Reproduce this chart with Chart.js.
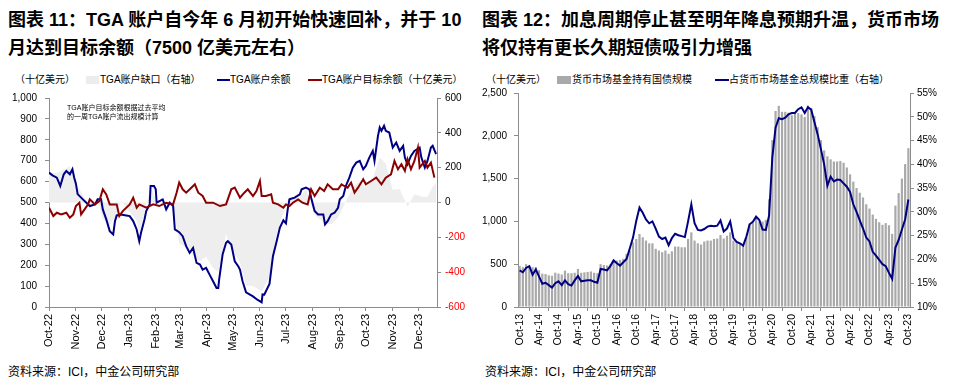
<!DOCTYPE html>
<html><head><meta charset="utf-8">
<script src="https://cdn.jsdelivr.net/npm/chart.js@4.4.0/dist/chart.umd.min.js"></script>
<style>
body{margin:0;width:961px;height:389px;background:#fff;position:relative;overflow:hidden;font-family:"Liberation Sans",Arial,"Noto Sans CJK SC",sans-serif;color:#000;}
.title{position:absolute;font-weight:bold;font-size:18px;line-height:28px;white-space:nowrap;}
.leg{position:absolute;font-size:10px;line-height:12px;top:74px;white-space:nowrap;}
.box{position:absolute;}
.src{position:absolute;font-size:12px;line-height:14px;top:365px;white-space:nowrap;}
canvas{position:absolute;}
</style></head><body>
<div class="title" style="left:8px;top:6px">图表 11：TGA 账户自今年 6 月初开始快速回补，并于 10<br>月达到目标余额（7500 亿美元左右）</div>
<div class="title" style="left:482px;top:6px">图表 12：加息周期停止甚至明年降息预期升温，货币市场<br>将仅持有更长久期短债吸引力增强</div>

<div class="leg" style="left:15px">（十亿美元）</div>
<div class="box" style="left:86px;top:76px;width:13px;height:8px;background:#ececec"></div>
<div class="leg" style="left:100px">TGA账户缺口（右轴）</div>
<div class="box" style="left:217px;top:79px;width:13px;height:2px;background:#000085"></div>
<div class="leg" style="left:230px">TGA账户余额</div>
<div class="box" style="left:308px;top:79px;width:14px;height:2px;background:#8b0000"></div>
<div class="leg" style="left:322px">TGA账户目标余额（十亿美元）</div>

<div class="leg" style="left:486px">（十亿美元）</div>
<div class="box" style="left:557px;top:76px;width:14px;height:8px;background:#a9a9a9"></div>
<div class="leg" style="left:572px">货币市场基金持有国债规模</div>
<div class="box" style="left:715px;top:79px;width:14px;height:2px;background:#000080"></div>
<div class="leg" style="left:729px">占货币市场基金总规模比重（右轴）</div>

<div class="src" style="left:8px">资料来源：ICI，中金公司研究部</div>
<div class="src" style="left:485px">资料来源：ICI，中金公司研究部</div>

<canvas id="c1" width="480" height="309" style="left:0;top:80px;width:480px;height:309px"></canvas>
<canvas id="c2" width="481" height="309" style="left:480px;top:80px;width:481px;height:309px"></canvas>

<script>
// ---------- Chart 11 data (x = days since 1 Oct 2022) ----------
const tgaMonthDays = [0,31,61,92,123,151,182,212,243,273,304,335,365,396,426];
const tgaMonthLabels = ['Oct-22','Nov-22','Dec-22','Jan-23','Feb-23','Mar-23','Apr-23','May-23','Jun-23','Jul-23','Aug-23','Sep-23','Oct-23','Nov-23','Dec-23'];

const balanceDays = [0,4,9,13,17,20,24,27,29,31,33,39,47,53,56,60,62,66,70,74,76,78,83,89,93,97,101,104,106,110,112,116,117,121,123,124,131,135,139,143,145,150,154,158,162,166,170,174,177,181,185,189,193,195,196,200,204,206,210,214,218,220,223,227,235,240,245,246,248,254,258,262,266,270,273,275,277,283,289,291,296,300,302,306,310,316,318,321,325,329,333,335,339,342,346,350,354,358,362,365,369,373,375,379,381,383,386,388,392,396,400,404,408,410,413,417,421,427,429,433,436,440,442,446];
const balanceValues = [643,630,619,579,635,651,635,659,620,590,540,515,483,491,515,515,467,419,363,347,411,438,443,438,435,411,371,315,355,419,459,491,579,579,563,499,515,467,499,483,371,358,339,291,259,283,211,203,179,187,155,123,91,91,131,251,307,315,299,219,195,179,123,70,51,35,22,60,59,110,243,310,380,415,400,467,515,523,539,563,571,563,523,459,443,443,395,411,443,451,475,515,531,579,619,667,691,699,659,675,715,747,699,819,859,843,867,843,835,763,787,747,771,715,683,723,747,763,715,667,699,763,771,731];

const targetDays = [0,5,9,14,20,24,28,31,35,37,41,45,47,53,58,62,66,70,78,81,85,93,97,101,104,112,120,127,135,143,147,150,154,158,164,168,172,177,181,189,197,204,210,214,220,225,229,235,239,243,245,250,256,258,264,270,273,277,281,287,292,298,302,306,312,317,321,327,333,337,340,344,348,352,356,362,365,371,377,383,388,394,398,402,406,410,413,417,421,425,427,433,436,440,444];
const targetValues = [475,435,451,443,451,427,443,483,499,443,467,491,515,491,507,563,539,491,491,435,459,491,523,475,491,475,491,483,499,491,547,595,563,547,571,587,547,531,499,499,483,491,563,571,523,547,563,531,555,603,531,531,539,499,491,475,491,483,499,515,499,491,563,531,571,555,587,563,563,587,579,571,595,547,571,611,587,603,619,587,619,635,699,659,683,651,707,659,699,763,667,699,667,691,619];

const gapDays = [0,9,17,24,31,39,47,56,62,70,76,83,93,101,104,112,117,124,135,143,150,158,166,174,181,189,195,204,210,220,227,235,245,254,262,270,277,289,296,306,316,325,333,342,350,358,365,373,381,388,396,404,413,421,429,436,442,446];
const gapValues = [168,168,190,208,107,45,-32,15,-96,-128,-80,8,-56,-104,-176,-16,94,9,-32,-8,-237,-256,-304,-337,-312,-376,-399,-184,-264,-344,-477,-480,-509,-429,-185,-60,32,29,78,-72,-112,-127,-88,4,87,124,88,137,259,224,73,77,-24,48,35,32,91,112];

const noteLines = ['TGA账户目标余额根据过去平均','的一周TGA账户流出规模计算'];

// ---------- Chart 12 data (monthly, Oct-13 .. Oct-23) ----------
const mmfTickLabels = ['Oct-13','Apr-14','Oct-14','Apr-15','Oct-15','Apr-16','Oct-16','Apr-17','Oct-17','Apr-18','Oct-18','Apr-19','Oct-19','Apr-20','Oct-20','Apr-21','Oct-21','Apr-22','Oct-22','Apr-23','Oct-23'];
const mmfTreasury = [
480,465,500,470,465,465,430,390,385,370,
365,400,390,380,425,395,395,400,445,400,
405,410,415,400,395,500,490,485,500,540,
543,550,563,621,659,756,795,853,814,776,
744,744,680,660,640,660,621,650,706,706,
698,698,795,872,776,744,730,765,776,776,
795,800,840,800,833,872,776,760,745,737,
814,970,985,1047,1000,1000,1018,1260,1950,2290,
2350,2280,2280,2270,2240,2255,2265,2250,2220,2355,
2325,2230,2100,1950,1830,1760,1725,1700,1700,1705,
1685,1630,1550,1465,1390,1335,1280,1200,1150,1080,
1030,990,960,980,955,855,1185,1330,1500,1670,
1855];
const mmfShare = [
17.7,17.3,18.2,18.6,16.8,17.9,16.4,14.9,15.1,14.6,
14.1,15.0,15.4,14.6,15.6,14.8,14.5,15.6,16.5,15.4,
15.5,15.6,15.6,15.3,15.1,18.0,17.9,17.7,18.6,19.8,
19.2,18.7,19.4,20.1,22.3,24.6,28.1,30.9,29.8,28.4,
27.6,28.0,26.5,24.8,24.3,24.6,23.0,24.5,25.4,25.1,
24.9,24.7,28.0,31.6,27.6,26.2,26.1,26.4,26.9,27.1,
27.0,27.1,28.2,25.9,26.5,28.0,24.5,23.7,23.4,22.9,
24.8,27.4,27.9,29.0,28.3,26.3,26.2,29.2,41.4,47.7,
49.7,49.5,49.8,50.5,50.8,50.8,51.6,52.0,50.8,52.0,
51.5,48.9,46.3,43.2,40.0,35.5,37.4,36.4,36.8,36.7,
36.0,35.3,34.2,31.6,30.0,28.2,26.5,24.6,23.8,21.6,
20.8,19.9,19.0,18.6,17.2,15.9,22.5,24.1,26.3,28.4,
32.6];
const monthNames = ['Jan','Feb','Mar','Apr','May','Jun','Jul','Aug','Sep','Oct','Nov','Dec'];
const mmfCategories = mmfTreasury.map((_, i) => monthNames[(9 + i) % 12] + '-' + (13 + Math.floor((9 + i) / 12)));

// ---------- common ----------
Chart.defaults.font.family = '"Liberation Sans", Arial, "Noto Sans CJK SC", sans-serif';
Chart.defaults.font.size = 10;
Chart.defaults.color = '#000';
const AXIS = '#8c8c8c';
const pts = (xs, ys) => xs.map((x, i) => ({x: x, y: ys[i]}));

const notePlugin = {
  id: 'note',
  afterDatasetsDraw(chart) {
    const ctx = chart.ctx, a = chart.chartArea;
    ctx.save();
    ctx.font = '7px "Liberation Sans", "Noto Sans CJK SC", sans-serif';
    ctx.fillStyle = '#000';
    ctx.textBaseline = 'middle';
    ctx.fillText(noteLines[0], a.left + 18, a.top + 10.5);
    ctx.fillText(noteLines[1], a.left + 18, a.top + 19.5);
    ctx.restore();
  }
};

new Chart(document.getElementById('c1'), {
  type: 'line',
  data: {
    datasets: [
      {data: pts(gapDays, gapValues), yAxisID: 'y1', borderWidth: 0, borderColor: 'rgba(0,0,0,0)', backgroundColor: '#eeeeee', fill: 'origin', pointRadius: 0, order: 3},
      {data: pts(balanceDays, balanceValues), yAxisID: 'y', borderColor: '#000085', borderWidth: 2, pointRadius: 0, fill: false, order: 2},
      {data: pts(targetDays, targetValues), yAxisID: 'y', borderColor: '#8b0000', borderWidth: 2, pointRadius: 0, fill: false, order: 1}
    ]
  },
  options: {
    responsive: false, animation: false, devicePixelRatio: 1,
    layout: {padding: {top: 18, left: 0, right: 0, bottom: 0}},
    plugins: {legend: {display: false}, tooltip: {enabled: false}},
    scales: {
      x: {
        type: 'linear', min: 0, max: 447,
        afterBuildTicks: s => { s.ticks = tgaMonthDays.map(v => ({value: v})); },
        afterFit: s => { s.height = 82; },
        ticks: {autoSkip: false, minRotation: 90, maxRotation: 90, padding: 3, font: {size: 11},
          callback: v => { const k = tgaMonthDays.indexOf(v); return k >= 0 ? tgaMonthLabels[k] : ''; }},
        grid: {drawOnChartArea: false, tickLength: 4, color: AXIS},
        border: {color: AXIS}
      },
      y: {
        position: 'left', min: 0, max: 1000,
        afterFit: s => { s.width = 49; },
        ticks: {stepSize: 100, padding: 8, callback: v => v.toLocaleString('en-US')},
        grid: {drawOnChartArea: false, tickLength: 4, color: AXIS},
        border: {color: AXIS}
      },
      y1: {
        position: 'right', min: -600, max: 600,
        afterFit: s => { s.width = 43; },
        ticks: {stepSize: 200, padding: 4, color: c => (c.tick && c.tick.value < 0) ? '#ff0000' : '#000'},
        grid: {drawOnChartArea: false, tickLength: 4, color: AXIS},
        border: {color: AXIS}
      }
    }
  },
  plugins: [notePlugin]
});

new Chart(document.getElementById('c2'), {
  type: 'bar',
  data: {
    labels: mmfCategories,
    datasets: [
      {type: 'line', data: mmfShare, yAxisID: 'y1', borderColor: '#000080', borderWidth: 2, pointRadius: 0, fill: false, order: 0},
      {type: 'bar', data: mmfTreasury, yAxisID: 'y', backgroundColor: '#a9a9a9', barPercentage: 0.68, categoryPercentage: 1, order: 1}
    ]
  },
  options: {
    responsive: false, animation: false, devicePixelRatio: 1,
    layout: {padding: {top: 12, left: 0, right: 0, bottom: 0}},
    plugins: {legend: {display: false}, tooltip: {enabled: false}},
    scales: {
      x: {
        type: 'category', offset: true,
        afterFit: s => { s.height = 82; },
        ticks: {autoSkip: false, minRotation: 90, maxRotation: 90, padding: 3, font: {size: 10.5},
          callback: (v, i) => (i % 6 === 0 ? mmfTickLabels[i / 6] : null)},
        grid: {drawOnChartArea: false, tickLength: 4, color: AXIS},
        border: {color: AXIS}
      },
      y: {
        position: 'left', min: 0, max: 2500,
        afterFit: s => { s.width = 38; },
        ticks: {stepSize: 500, padding: 7, callback: v => v.toLocaleString('en-US')},
        grid: {drawOnChartArea: false, tickLength: 4, color: AXIS},
        border: {color: AXIS}
      },
      y1: {
        position: 'right', min: 10, max: 55,
        afterFit: s => { s.width = 51; },
        ticks: {stepSize: 5, padding: 3, callback: v => v + '%'},
        grid: {drawOnChartArea: false, tickLength: 4, color: AXIS},
        border: {color: AXIS}
      }
    }
  }
});
</script>
</body></html>
